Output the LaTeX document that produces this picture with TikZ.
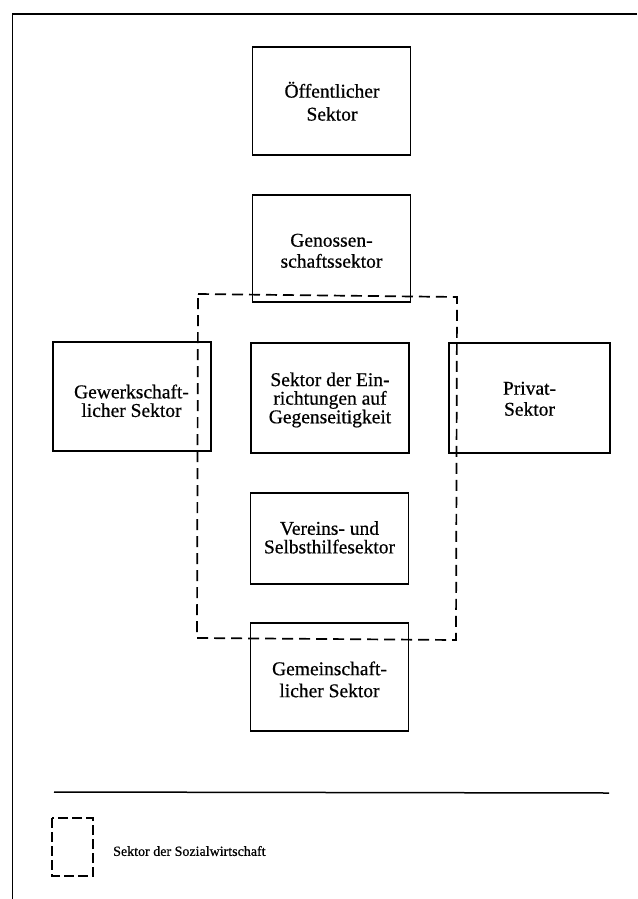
\documentclass[tikz,border=0pt]{standalone}
\usepackage{fontspec}
\setmainfont{Liberation Serif}
\newfontfamily\scanfont[FakeBold=0.6]{Liberation Serif}
\begin{document}
\begin{tikzpicture}[x=1pt,y=-1pt,
  sectorbox/.style={draw, line width=1.5pt, inner sep=0pt, minimum width=158pt},
  sectortext/.style={align=center, inner sep=0pt},
  sozial/.style={line width=1.7pt, dash pattern=on 11pt off 6pt},
  legendtext/.style={font=\scanfont\fontsize{14}{16}\selectfont, anchor=west, inner sep=0pt}]
\useasboundingbox (0,0) rectangle (637,899);
% outer frame (cut at right and bottom)
\coordinate (ftl) at (12.5,14);
\coordinate (ftr) at (637,14);
\coordinate (fbl) at (12.5,899);
\draw[line width=1.8pt] (ftr) -- (ftl) -- (fbl);
% sector boxes
\node[sectorbox, minimum height=108pt] (oeff) at (331.5,101) {};
\node[sectorbox, minimum height=107pt] (geno) at (331.5,248.5) {};
\node[sectorbox, minimum height=109pt] (gew) at (132,396.5) {};
\node[sectorbox, minimum height=110pt] (einr) at (330,398) {};
\node[sectorbox, minimum height=110pt, minimum width=161pt] (priv) at (529.5,398) {};
\node[sectorbox, minimum height=91pt] (ver) at (329.5,538.5) {};
\node[sectorbox, minimum height=108pt] (gem) at (329.5,677) {};
% sector labels
\node[sectortext, font=\scanfont\fontsize{19.5}{23}\selectfont] (oeffT) at (332,101.3) {Öffentlicher\\Sektor};
\node[sectortext, font=\scanfont\fontsize{19.5}{21}\selectfont] (genoT) at (331.5,250.8) {Genossen-\\schaftssektor};
\node[sectortext, font=\scanfont\fontsize{19.5}{18.6}\selectfont] (gewT) at (131.5,400.8) {Gewerkschaft-\\licher Sektor};
\node[sectortext, font=\scanfont\fontsize{19.5}{18.6}\selectfont] (einrT) at (330,400) {Sektor der Ein-\\richtungen auf\\Gegenseitigkeit};
\node[sectortext, font=\scanfont\fontsize{19.5}{21}\selectfont] (privT) at (529.5,398.8) {Privat-\\Sektor};
\node[sectortext, font=\scanfont\fontsize{19.5}{18.6}\selectfont] (verT) at (329.5,537.4) {Vereins- und\\Selbsthilfesektor};
\node[sectortext, font=\scanfont\fontsize{19.5}{22}\selectfont] (gemT) at (329.5,679.4) {Gemeinschaft-\\licher Sektor};
% social economy sector (dashed)
\coordinate (d1) at (198,294);
\coordinate (d2) at (457,297);
\coordinate (d3) at (456,640);
\coordinate (d4) at (197,638);
\draw[sozial] (d1) -- (d2) -- (d3) -- (d4) -- cycle;
% separator line
\coordinate (s1) at (54,792);
\coordinate (s2) at (609,793);
\draw[line width=1.5pt] (s1) -- (s2);
% legend
\coordinate (l1) at (52,818);
\coordinate (l2) at (93,876);
\draw[line width=1.3pt, dash pattern=on 10pt off 4pt] (l1) rectangle (l2);
\node[legendtext] (legt) at (113,851) {Sektor der Sozialwirtschaft};
\end{tikzpicture}
\end{document}
